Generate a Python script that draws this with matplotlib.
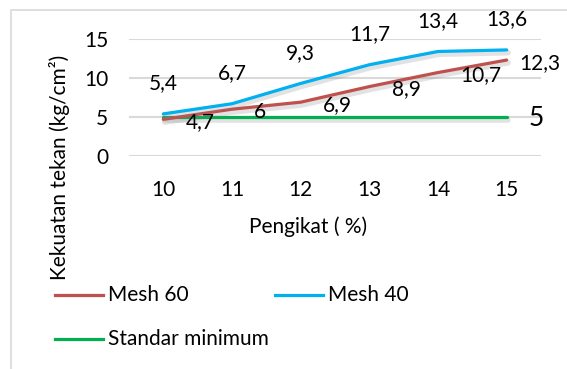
import matplotlib
matplotlib.use("Agg")
import matplotlib.pyplot as plt
import matplotlib.patheffects as pe
from matplotlib.patches import Rectangle

plt.rcParams['font.family'] = ['Lato', 'DejaVu Sans']

# binder content (%) and compressive strength (kg/cm2)
pengikat = [10, 11, 12, 13, 14, 15]
mesh_60 = [4.7, 6.0, 6.9, 8.9, 10.7, 12.3]
mesh_40 = [5.4, 6.7, 9.3, 11.7, 13.4, 13.6]
standar_min = [5, 5, 5, 5, 5, 5]

c_red = "#C0504D"
c_blue = "#00B0F0"
c_green = "#00B050"
c_grid = "#D9D9D9"
c_text = "#000000"

W, H = 567, 369
fig = plt.figure(figsize=(W / 100, H / 100), dpi=100)

# outer chart border (only top/left edges visible)
fig.patches.append(Rectangle((11 / W, -0.1), 1.2, 1 - 10 / H + 0.1,
                             transform=fig.transFigure, fill=False,
                             edgecolor=c_grid, linewidth=1.2))

ax = fig.add_axes([129 / W, 1 - 156 / H, 412 / W, 117 / H])
x = list(range(len(pengikat)))

shadow = [pe.SimpleLineShadow(offset=(1, -2), shadow_color="#7f7f7f",
                              alpha=0.22, linewidth=4), pe.Normal()]

ax.plot(x, mesh_60, color=c_red, lw=2.3, label="Mesh 60", zorder=3,
        path_effects=shadow, solid_capstyle="round")
ax.plot(x, mesh_40, color=c_blue, lw=2.3, label="Mesh 40", zorder=4,
        path_effects=shadow, solid_capstyle="round")
ax.plot(x, standar_min, color=c_green, lw=2.3, label="Standar minimum",
        zorder=2, path_effects=shadow, solid_capstyle="round")

def fmt(v):
    s = f"{v:g}"
    return s.replace(".", ",")

fs = 15
for xi, v in zip(x, mesh_40):
    ax.annotate(fmt(v), (xi, v), xytext=(0, 22), textcoords="offset points",
                ha="center", va="center", fontsize=fs, color=c_text)
for i, (xi, v) in enumerate(zip(x, mesh_60)):
    dx = 9 if i == len(x) - 1 else 16
    ax.annotate(fmt(v), (xi, v), xytext=(dx, -2), textcoords="offset points",
                ha="left", va="center", fontsize=fs, color=c_text)
ax.annotate(fmt(standar_min[-1]), (x[-1], standar_min[-1]), xytext=(16, -1),
            textcoords="offset points", ha="left", va="center",
            fontsize=19, color=c_text)

ax.set_xlim(-0.5, len(x) - 0.5)
ax.set_ylim(0, 15)
ax.set_yticks([0, 5, 10, 15])
ax.set_xticks(x)
ax.set_xticklabels([str(p) for p in pengikat])
ax.tick_params(length=0, labelsize=fs, colors=c_text)
ax.tick_params(axis="y", pad=15)
ax.tick_params(axis="x", pad=17)
ax.grid(axis="y", color=c_grid, lw=1.5)
ax.set_axisbelow(True)
for s in ax.spines.values():
    s.set_visible(False)

fig.text(308 / W, 1 - 227 / H, "Pengikat ( %)", ha="center", va="center",
         fontsize=fs, color=c_text)
fig.text(60 / W, 1 - 167 / H, "Kekuatan tekan (kg/cm²)", ha="center",
         va="center", rotation=90, fontsize=fs, color=c_text)

# legend entries
legend_items = [("Mesh 60", c_red, 55, 295), ("Mesh 40", c_blue, 275, 295),
                ("Standar minimum", c_green, 55, 339)]
for name, col, lx, ly in legend_items:
    fig.lines.append(plt.Line2D([lx / W, (lx + 48) / W], [1 - ly / H] * 2,
                                transform=fig.transFigure, color=col, lw=2.3))
    fig.text((lx + 53) / W, 1 - ly / H, name, ha="left", va="center",
             fontsize=fs, color=c_text)

fig.savefig("out.png", dpi=100)
